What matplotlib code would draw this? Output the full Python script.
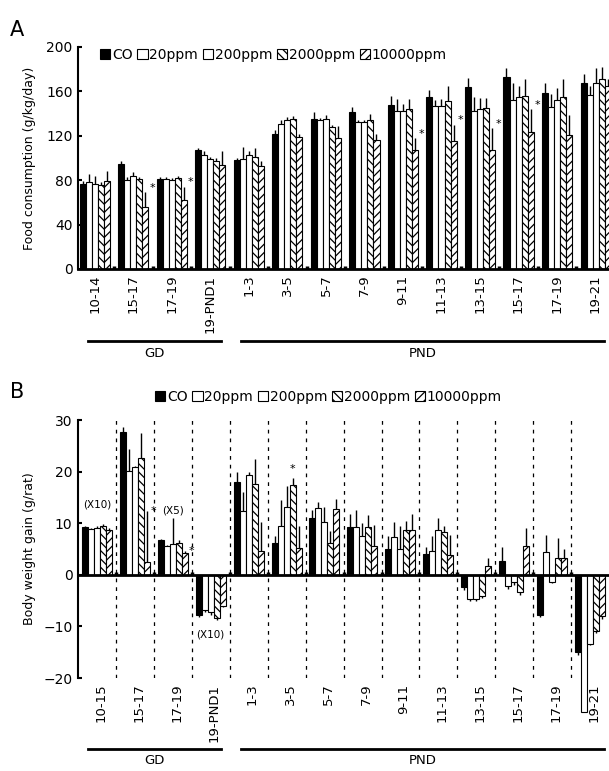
import matplotlib
matplotlib.use('Agg')
from matplotlib import pyplot as plt
from matplotlib.patches import Patch
from matplotlib.lines import Line2D
import numpy as np

plt.rcParams['font.family'] = ['DejaVu Sans']
plt.rcParams['hatch.linewidth'] = 0.9

series = ['CO', '20ppm', '200ppm', '2000ppm', '10000ppm']
colors = ['black', 'white', 'white', 'white', 'white']
hatches = [None, None, None, '\\\\\\\\', '////']

# panel A: food consumption (g/kg/day)
groups_a = ['10-14', '15-17', '17-19', '19-PND1', '1-3', '3-5', '5-7', '7-9',
            '9-11', '11-13', '13-15', '15-17', '17-19', '19-21']
co_a = [77, 95, 81, 107, 98, 122, 135, 141, 148, 155, 164, 173, 159, 168]
p20_a = [78, 80, 81, 103, 99, 131, 134, 132, 142, 147, 142, 152, 146, 157]
p200_a = [77, 84, 80, 99, 103, 134, 135, 132, 142, 147, 144, 155, 152, 168]
p2000_a = [76, 81, 82, 97, 101, 135, 128, 134, 144, 151, 145, 156, 155, 171]
p10000_a = [79, 56, 62, 94, 93, 119, 118, 116, 107, 115, 107, 123, 121, 165]
co_a_err = [2, 2, 2, 2, 2, 3, 6, 5, 8, 6, 8, 8, 9, 8]
p20_a_err = [8, 3, 2, 3, 11, 3, 2, 2, 11, 5, 13, 16, 12, 8]
p200_a_err = [7, 3, 2, 2, 3, 3, 4, 2, 7, 6, 10, 10, 11, 13]
p2000_a_err = [2, 2, 2, 3, 8, 3, 2, 6, 9, 14, 9, 15, 16, 11]
p10000_a_err = [9, 13, 12, 12, 4, 3, 11, 6, 11, 15, 20, 21, 18, 6]
stars_a = [1, 2, 8, 9, 10, 11]  # groups with * on 10000ppm

# panel B: body weight gain (g/rat)
groups_b = ['10-15', '15-17', '17-19', '19-PND1', '1-3', '3-5', '5-7', '7-9',
            '9-11', '11-13', '13-15', '15-17', '17-19', '19-21']
co_b = [9.2, 27.6, 6.7, -7.8, 18.0, 6.2, 11.1, 9.2, 5.0, 4.0, -2.4, 2.7, -7.8, -15.0]
p20_b = [8.9, 20.1, 5.5, -6.8, 12.4, 9.4, 12.9, 9.2, 7.4, 4.6, -4.7, -2.2, 4.5, -26.5]
p200_b = [9.1, 20.8, 5.9, -7.3, 19.4, 13.1, 10.2, 7.5, 5.0, 8.6, -4.7, -1.4, -1.3, -13.4]
p2000_b = [9.4, 22.6, 6.2, -8.3, 17.5, 17.4, 6.2, 9.2, 8.6, 8.2, -4.2, -3.4, 3.3, -10.8]
p10000_b = [8.7, 2.5, 4.3, -6.0, 4.6, 5.2, 12.8, 5.5, 8.6, 3.8, 1.8, 5.6, 3.3, -8.0]
co_b_err = [0.3, 1.0, 0.3, 0.3, 2.0, 1.4, 1.5, 2.6, 2.5, 1.4, 0.5, 2.6, 0.3, 0.5]
p20_b_err = [0.2, 4.2, 0.2, 0.5, 3.7, 5.0, 1.3, 3.4, 2.9, 3.0, 0.3, 0.5, 3.2, 0.5]
p200_b_err = [0.3, 0.3, 5.2, 0.5, 0.6, 4.1, 3.0, 2.6, 4.4, 2.4, 0.3, 0.5, 0.3, 0.3]
p2000_b_err = [0.4, 4.8, 0.5, 0.5, 5.0, 1.4, 2.3, 2.3, 1.9, 1.2, 0.3, 0.5, 3.9, 0.5]
p10000_b_err = [0.3, 9.9, 0.3, 0.3, 5.6, 4.2, 1.9, 4.2, 3.2, 4.0, 1.4, 3.4, 1.7, 0.5]
stars_b = [(1, 4), (2, 4), (5, 3)]


def draw_bars(ax, vals, errs, w):
    x0 = np.arange(len(vals[0]))
    for k in range(5):
        x = x0 + k * w + w / 2
        v = np.array(vals[k])
        e = np.array(errs[k])
        ax.bar(x, v, w, color=colors[k], edgecolor='black', linewidth=0.8,
               hatch=hatches[k], clip_on=False, zorder=2)
        up = np.where(v >= 0, e, 0)
        dn = np.where(v < 0, e, 0)
        ax.errorbar(x, v, yerr=[dn, up], fmt='none', ecolor='black',
                    elinewidth=1.0, capsize=0, zorder=3)
    return x0


def legend(ax, xy):
    handles = [Patch(facecolor=colors[k], edgecolor='black', hatch=hatches[k],
                     linewidth=0.8) for k in range(5)]
    ax.legend(handles, series, loc='center left', bbox_to_anchor=xy, ncol=5,
              frameon=False, fontsize=10, handlelength=0.75, handleheight=0.75,
              handletextpad=0.1, columnspacing=0.35, borderaxespad=0, borderpad=0)


fig = plt.figure(figsize=(6.09, 7.71), dpi=100)

# ---------- A ----------
wa = 0.156
axa = fig.add_axes([78 / 609, 1 - 269 / 771, 531 / 609, 222 / 771])
xa = draw_bars(axa, [co_a, p20_a, p200_a, p2000_a, p10000_a],
               [co_a_err, p20_a_err, p200_a_err, p2000_a_err, p10000_a_err], wa)
axa.set_xlim(-0.05, 13.74)
axa.set_ylim(0, 200)
axa.set_yticks(range(0, 201, 40))
axa.set_xticks(xa + 2.5 * wa)
axa.set_xticklabels(groups_a, rotation=90, fontsize=9.5)
axa.tick_params(axis='x', length=0, pad=4)
axa.tick_params(axis='y', direction='in', length=3, width=1.5, labelsize=10, pad=4)
axa.vlines(xa[1:] - 0.11, 0, 2.5, color='black', linewidth=2.5, zorder=4)
for s in ['top', 'right']:
    axa.spines[s].set_visible(False)
axa.spines['left'].set_linewidth(1.5)
axa.spines['bottom'].set_linewidth(2)
axa.set_ylabel('Food consumption (g/kg/day)', fontsize=9)
axa.yaxis.set_label_coords(-0.08, 0.5)
for g in stars_a:
    axa.text(g + 5 * wa + 0.02, p10000_a[g] + p10000_a_err[g] + 4, '*',
             fontsize=8, ha='left', va='center')
legend(axa, ((100 - 78) / 531, 1 - (55 - 47) / 222))

# ---------- B ----------
wb = 0.158
axb = fig.add_axes([78 / 609, 1 - 678 / 771, 531 / 609, 258 / 771])
xb = draw_bars(axb, [co_b, p20_b, p200_b, p2000_b, p10000_b],
               [co_b_err, p20_b_err, p200_b_err, p2000_b_err, p10000_b_err], wb)
axb.set_xlim(-0.105, 13.9)
axb.set_ylim(-20, 30)
axb.set_yticks(range(-20, 31, 10))
axb.set_xticks(xb + 2.5 * wb + 0.1)
axb.set_xticklabels(groups_b, rotation=90, fontsize=9.5)
axb.tick_params(axis='x', length=0, pad=4)
axb.tick_params(axis='y', direction='in', length=3, width=1.5, labelsize=10, pad=4)
axb.axhline(0, color='black', linewidth=2, zorder=4)
axb.vlines(xb[1:] - 0.1, -20, 30, color='black', linewidth=0.9,
           linestyles=(0, (3, 4)), zorder=1)
axb.vlines(xb[1:] - 0.1, 0, 0.6, color='black', linewidth=2.5, zorder=4)
for s in ['top', 'right', 'bottom']:
    axb.spines[s].set_visible(False)
axb.spines['left'].set_linewidth(1.5)
axb.set_ylabel('Body weight gain (g/rat)', fontsize=9)
axb.yaxis.set_label_coords(-0.08, 0.5)
for g, k in stars_b:
    vals_k = [co_b, p20_b, p200_b, p2000_b, p10000_b][k]
    errs_k = [co_b_err, p20_b_err, p200_b_err, p2000_b_err, p10000_b_err][k]
    if k == 4:
        axb.text(g + 5 * wb + 0.02, vals_k[g] + errs_k[g], '*', fontsize=8,
                 ha='left', va='center')
    else:
        axb.text(g + (k + 0.5) * wb, vals_k[g] + errs_k[g] + 0.8, '*',
                 fontsize=8, ha='center', va='bottom')
axb.text(xb[0] + 2.5 * wb, 13.7, '(X10)', fontsize=7.5, ha='center', va='center')
axb.text(xb[2] + 2.5 * wb, 12.4, '(X5)', fontsize=7.5, ha='center', va='center')
axb.text(xb[3] + 2.5 * wb, -11.5, '(X10)', fontsize=7.5, ha='center', va='center')
legend(axb, ((155 - 78) / 531, 1 + (420 - 397) / 258))

# GD / PND brackets
for ly, ty in [(341, 354), (749, 761)]:
    for x1, x2, lab in [(88, 221, 'GD'), (241, 604, 'PND')]:
        fig.add_artist(Line2D([x1 / 609, x2 / 609], [1 - ly / 771] * 2,
                              color='black', linewidth=2))
        fig.text((x1 + x2) / 2 / 609, 1 - ty / 771, lab, ha='center',
                 va='center', fontsize=9.5)

fig.text(10 / 609, 1 - 30 / 771, 'A', fontsize=15, ha='left', va='center')
fig.text(10 / 609, 1 - 392 / 771, 'B', fontsize=15, ha='left', va='center')

fig.savefig('out.png', dpi=100)
